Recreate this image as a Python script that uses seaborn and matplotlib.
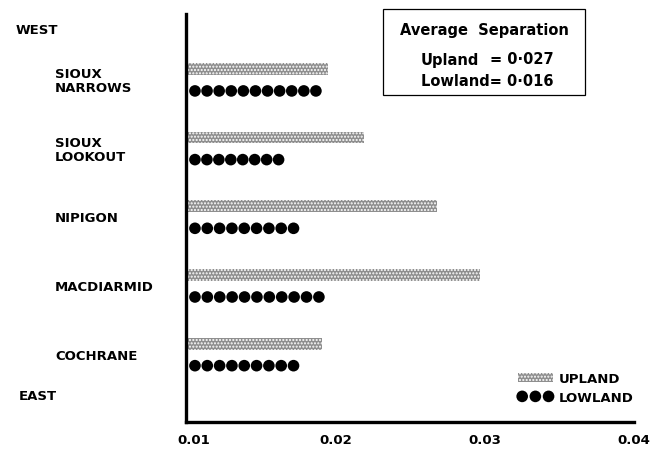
import numpy as np
import pandas as pd
import matplotlib
matplotlib.use('Agg')
import matplotlib.pyplot as plt
import matplotlib.transforms as mtransforms
from matplotlib.patches import Patch, Rectangle
import seaborn as sns

# Data (west to east)
stations = ['SIOUX\nNARROWS', 'SIOUX\nLOOKOUT', 'NIPIGON', 'MACDIARMID', 'COCHRANE']
upland = [0.0195, 0.0219, 0.0268, 0.0297, 0.0191]
lowland = [0.0193, 0.0168, 0.0178, 0.0195, 0.0178]
x_ticks = [0.01, 0.02, 0.03, 0.04]
x_labels = ['0.01', '0.02', '0.03', '0.04']
avg_upland = '0·027'
avg_lowland = '0·016'

sns.set_style('white')
plt.rcParams['font.family'] = ['DejaVu Sans']
plt.rcParams['text.color'] = 'black'
plt.rcParams['xtick.color'] = 'black'
plt.rcParams['hatch.linewidth'] = 1.0

fig = plt.figure(figsize=(6.61, 4.52), dpi=100)
W, H = 661, 452
ax = fig.add_axes([186 / W, (H - 423) / H, (634 - 186) / W, (423 - 15) / H])

UP_FACE = '#8e8e8e'
UP_HATCH = '#ffffff'

# row positions: upland bar on top, lowland dots just below
y_up = np.arange(len(stations), dtype=float)
y_low = y_up + 0.32

up_df = pd.DataFrame({'value': upland, 'y': y_up})
sns.barplot(data=up_df, x='value', y='y', orient='h', native_scale=True,
            width=0.17, color=UP_FACE, ax=ax, saturation=1)
for p in ax.patches:
    p.set_hatch('.....')
    p.set_edgecolor(UP_HATCH)
    p.set_linewidth(0)

# lowland shown as a row of dots that runs out to the value
spacing = 0.00084
half = 0.0006
rows = []
for v, y in zip(lowland, y_low):
    n = int(round((v - 0.01) / spacing))
    for cx in np.linspace(0.01 + half, v - half, n):
        rows.append({'x': cx, 'y': y})
dots = pd.DataFrame(rows)
sns.scatterplot(data=dots, x='x', y='y', s=70, color='black', edgecolor='none',
                ax=ax, legend=False)

ax.set_xlim(0.01, 0.04)
ax.set_ylim(len(stations) - 1 + 1.14, -0.80)
ax.set_xticks(x_ticks)
ax.set_xticklabels(x_labels, fontsize=9.5, fontweight='bold')
ax.set_yticks([])
ax.set_xlabel('')
ax.set_ylabel('')
ax.tick_params(axis='x', length=0, pad=8)
# first label sits a little right of the axis corner
first = ax.get_xticklabels()[0]
first.set_transform(first.get_transform() + mtransforms.ScaledTranslation(8 / 100, 0, fig.dpi_scale_trans))
sns.despine(ax=ax)
for side in ['left', 'bottom']:
    ax.spines[side].set_linewidth(2.4)
    ax.spines[side].set_color('black')

# station names on the left
trans = mtransforms.blended_transform_factory(fig.transFigure, ax.transData)
for name, y in zip(stations, y_up):
    ax.text(55 / W, y + 0.17, name, transform=trans, ha='left', va='center',
            fontsize=9.5, fontweight='bold', linespacing=1.05)

fig.text(16 / W, 1 - 30 / H, 'WEST', ha='left', va='center', fontsize=9.5, fontweight='bold')
fig.text(19 / W, 1 - 397 / H, 'EAST', ha='left', va='center', fontsize=9.5, fontweight='bold')

# box with average separation
fig.add_artist(Rectangle((383 / W, 1 - 96 / H), (585 - 383) / W, (96 - 10) / H,
                         transform=fig.transFigure, fill=False, edgecolor='black', linewidth=0.9))
fig.text(484 / W, 1 - 31 / H, 'Average  Separation', ha='center', va='center',
         fontsize=10.5, fontweight='bold')
fig.text(421 / W, 1 - 60 / H, 'Upland', ha='left', va='center', fontsize=10.5, fontweight='bold')
fig.text(490 / W, 1 - 60 / H, '= ' + avg_upland, ha='left', va='center', fontsize=10.5, fontweight='bold')
fig.text(421 / W, 1 - 81 / H, 'Lowland= ' + avg_lowland, ha='left', va='center',
         fontsize=10.5, fontweight='bold')

# legend
up_handle = Patch(facecolor=UP_FACE, edgecolor=UP_HATCH, hatch='.....', linewidth=0)
low_handle = plt.scatter([], [], s=70, color='black', edgecolor='none')
ax.legend([up_handle, low_handle], ['UPLAND', 'LOWLAND'], loc='lower right',
          bbox_to_anchor=(1.0, (423 - 405) / 408), frameon=False, scatterpoints=3,
          scatteryoffsets=[0.5], handlelength=2.6, handleheight=0.7, handletextpad=0.5,
          labelspacing=0.45, borderaxespad=0, borderpad=0,
          prop={'size': 9.5, 'weight': 'bold'})

fig.savefig('out.png', dpi=100)
